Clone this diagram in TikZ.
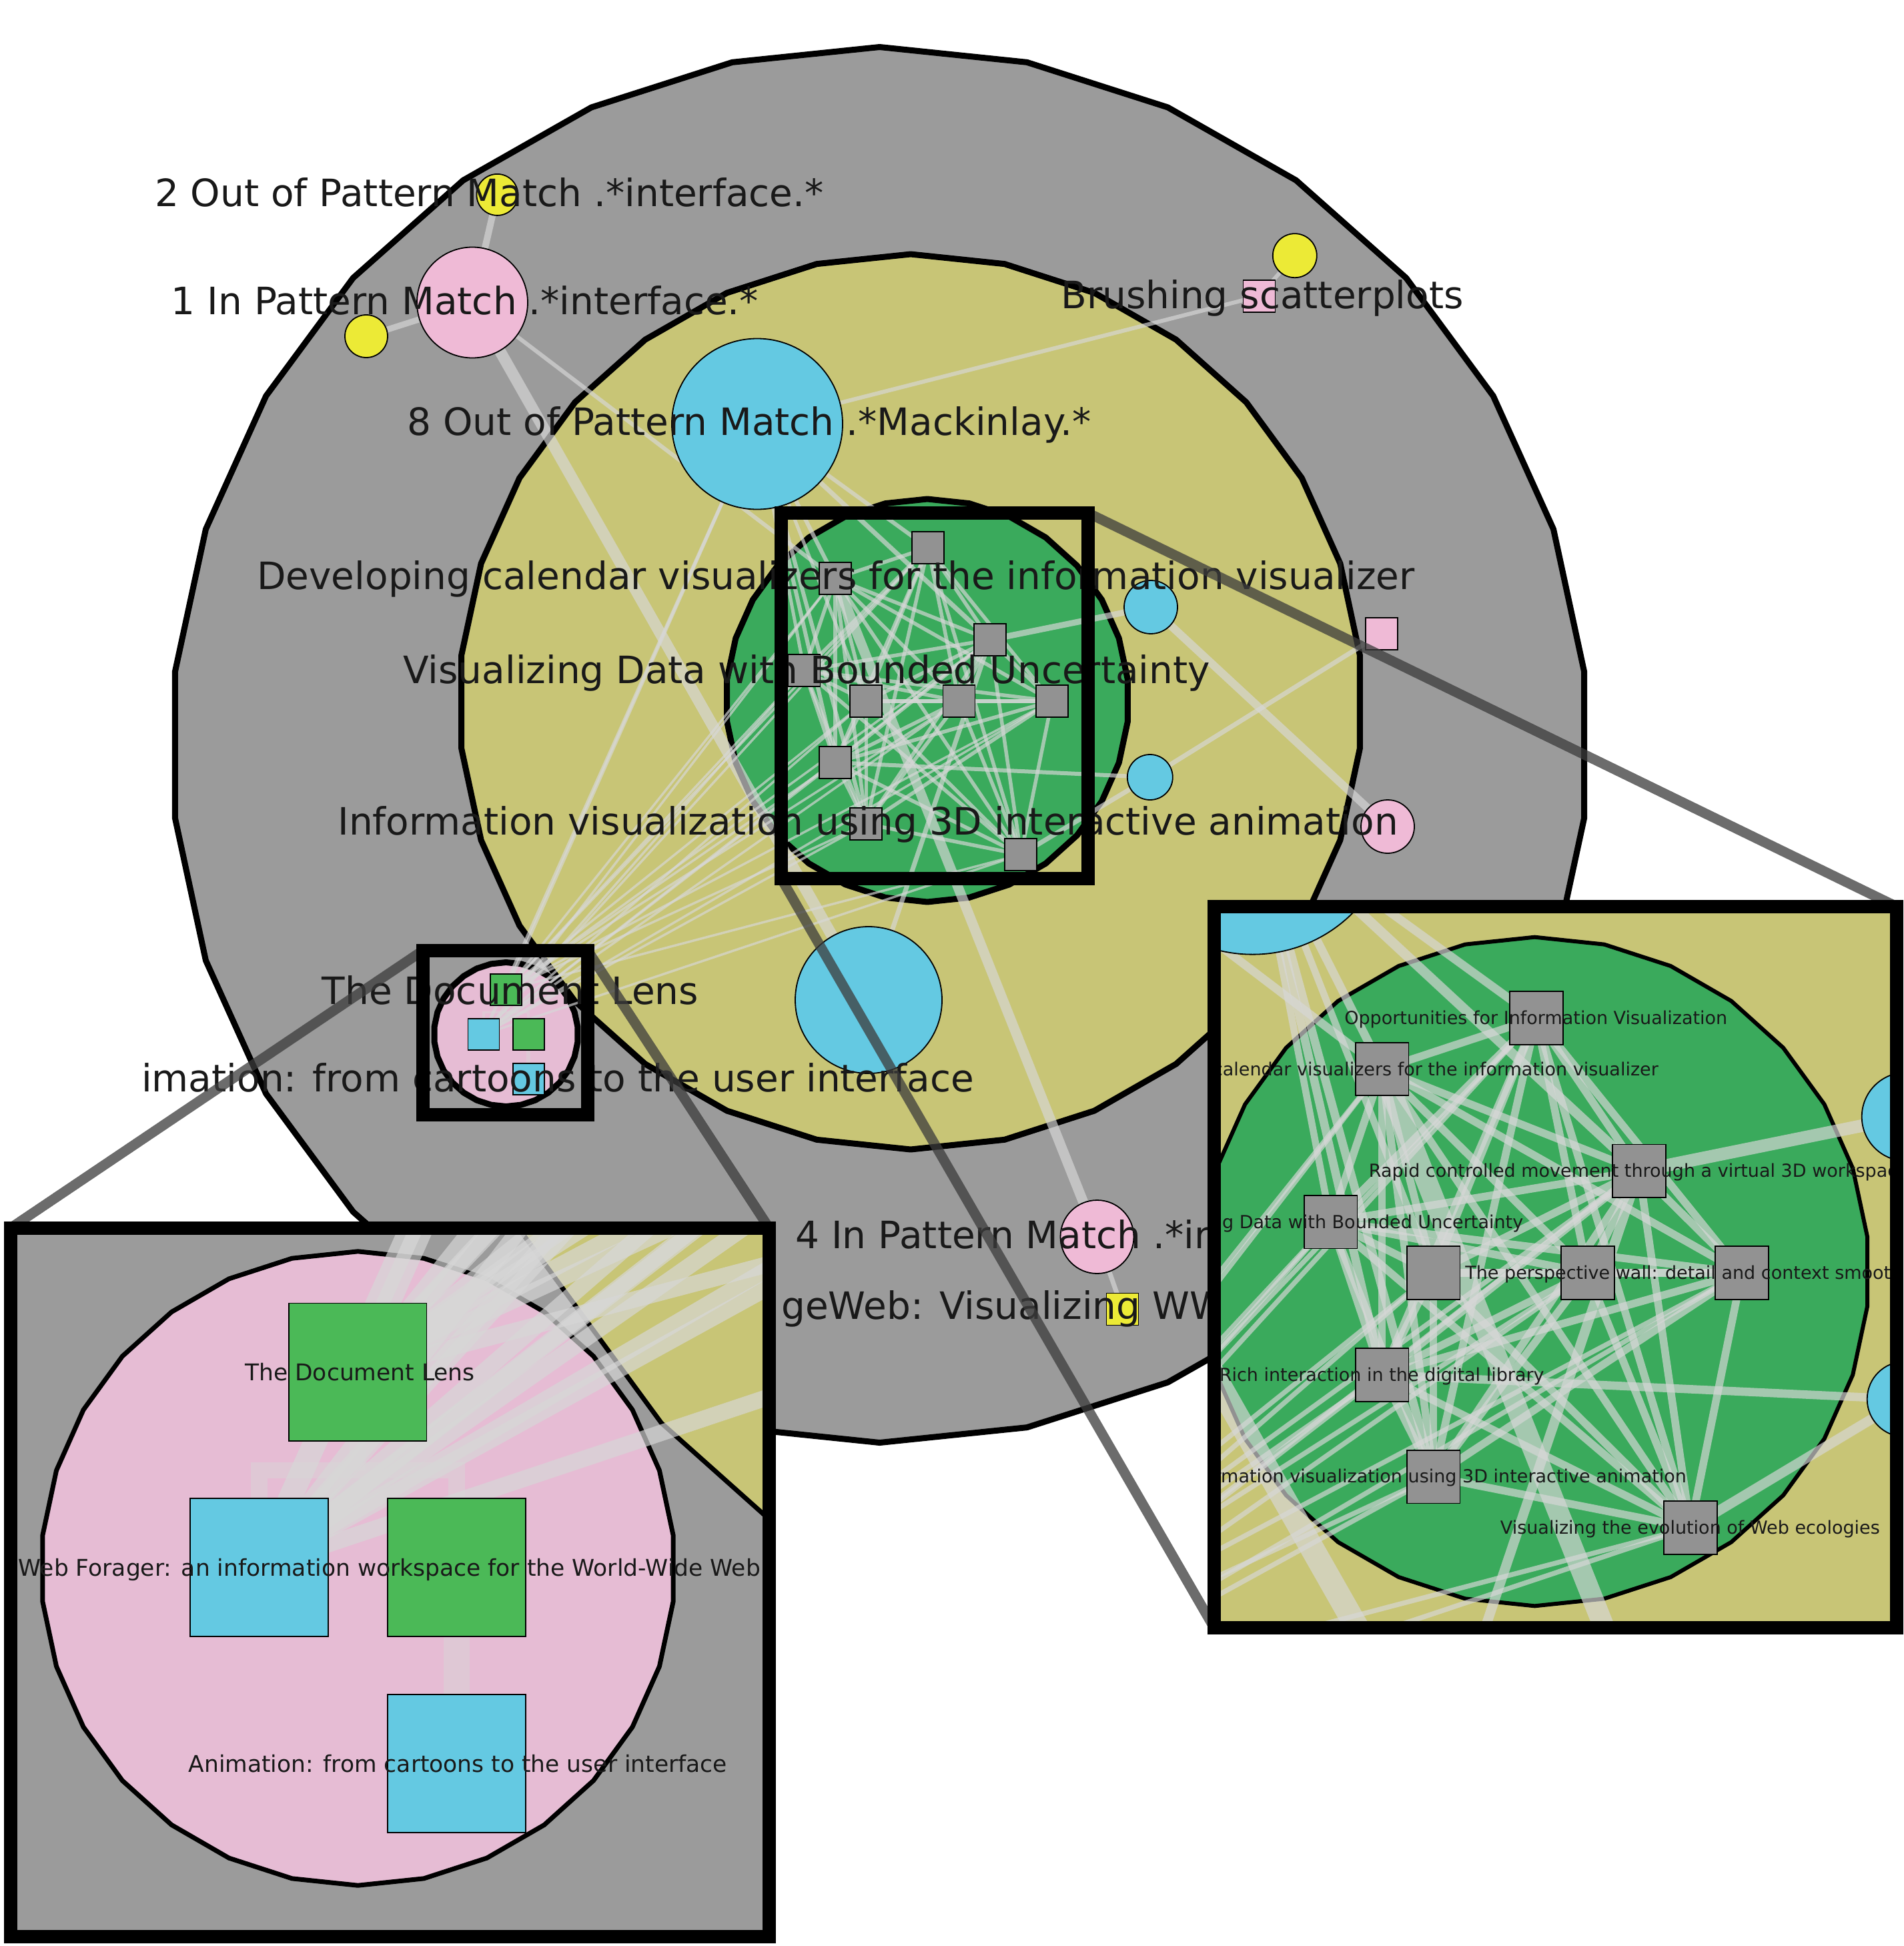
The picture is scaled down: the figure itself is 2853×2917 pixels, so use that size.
\documentclass[tikz,border=0pt]{standalone}
\usepackage{fontspec}
\setmainfont{DejaVu Sans}
\definecolor{ringgray}{RGB}{155,155,155}
\definecolor{khaki}{RGB}{200,197,118}
\definecolor{cgreen}{RGB}{58,170,92}
\definecolor{lgreen}{RGB}{75,185,87}
\definecolor{ccyan}{RGB}{100,201,226}
\definecolor{cpink}{RGB}{239,186,214}
\definecolor{lpink}{RGB}{230,188,212}
\definecolor{cyellow}{RGB}{236,234,54}
\definecolor{sqgray}{RGB}{146,146,146}
\definecolor{edgec}{RGB}{215,215,215}
\definecolor{lensline}{RGB}{60,60,60}
\tikzset{
  ringline/.style={draw=black, line join=round},
  edge/.style={draw=edgec, draw opacity=0.68},
  faint/.style={draw=edgec, draw opacity=0.45},
  sqn/.style={rectangle, draw=black, line width=1.8, inner sep=0pt, minimum size=48},
  cn/.style={circle, draw=black, line width=1.8, inner sep=0pt},
  mlab/.style={font=\fontsize{56.5}{60}\selectfont, text=black!90, inner sep=0pt, anchor=base},
  rlab/.style={font=\fontsize{27}{30}\selectfont, text=black!90, inner sep=0pt, anchor=base},
  llab/.style={font=\fontsize{34.5}{38}\selectfont, text=black!90, inner sep=0pt, anchor=base},
  frame/.style={draw=black, line width=20},
  lensconn/.style={draw=lensline, draw opacity=0.75, line width=15},
}
\newcommand\ringpoly[5]{%
  \filldraw[fill=#1, ringline, line width=\rw] plot[samples=31, domain=6:366, variable=\t] ({#2+#4*cos(\t)},{#3+#5*sin(\t)}) -- cycle;}
\newcommand\scene[2]{%
  \ringpoly{ringgray}{1318.5}{1116.5}{1062}{1046}
  \ringpoly{khaki}{1365}{1052}{677}{671}
  \ringpoly{cgreen}{1390}{1050}{302}{302}
  \ringpoly{lpink}{758.5}{1550.5}{108}{108}
  \foreach \n/\x/\y in {y1/745.4/291.9, p1/708/453.5, y2/549/504, cb/1135/635.5,
      y3/1940.8/383.2, bs/1887.4/443.9, c1/1725/910, ps/2070.7/949.6, c2/1723.8/1165,
      p2/2080/1239, cbot/1302/1499, p4/1644.5/1854, ysq/1682.5/1962.5,
      opp/1391.1/821, dev/1251.9/867, rap/1483.9/959, vis/1205.5/1005,
      ua/1298.3/1051, ub/1437.5/1051, per/1576.7/1051, ric/1251.9/1143,
      inf/1298.3/1235, evo/1530.3/1281,
      doc/758.5/1483.8, web/724.9/1550.3, grn/792.2/1550.3, ani/792.2/1617.1,
      mid/758.5/1517.3}
    \coordinate (#1\n) at (\x,\y);
  % cluster edges
  \foreach \a [count=\ci] in {opp,dev,rap,vis,ua,ub,per,ric,inf,evo}{%
    \foreach \b [count=\cj] in {opp,dev,rap,vis,ua,ub,per,ric,inf,evo}{%
      \ifnum\cj>\ci \draw[edge, line width=5.5*#2] (#1\a) -- (#1\b);\fi}}
  % lens fan
  \foreach \s in {doc,web}{%
    \foreach \t in {opp,dev,rap,vis,ua,ub,per,ric,inf,evo}{%
      \draw[edge, line width=3.5*#2] (#1\s) -- (#1\t);}}
  % other edges
  \foreach \a/\b/\w in {y1/p1/10, y2/p1/9, p1/cbot/17, p1/dev/6, cb/bs/6, bs/y3/6,
      cb/doc/5, cb/web/5, cb/opp/6, cb/dev/6, cb/vis/5, cb/ric/6, cb/inf/6, cb/rap/7,
      cb/ua/5, c1/rap/9, c1/p2/12, c2/ps/7, c2/ric/6, c2/evo/7, cbot/rap/7,
      p4/dev/15, p4/ysq/7}
    \draw[edge, line width=\w*#2] (#1\a) -- (#1\b);
  \draw[faint, line width=3.5*#2] (#1web) |- (#1mid) -| (#1grn);
  \draw[faint, line width=3.5*#2] (#1doc) -- (#1mid);
  \draw[faint, line width=5.5*#2] (#1grn) -- (#1ani);
  % nodes
  \foreach \n/\c/\s in {y1/cyellow/62, p1/cpink/166, y2/cyellow/64, cb/ccyan/256,
      y3/cyellow/66, c1/ccyan/80, c2/ccyan/68, p2/cpink/80, cbot/ccyan/220, p4/cpink/110}
    \node[cn, fill=\c, minimum size=\s] (#1\n-n) at (#1\n) {};
  \foreach \n/\c in {bs/cpink, ps/cpink, ysq/cyellow, opp/sqgray, dev/sqgray, rap/sqgray,
      vis/sqgray, ua/sqgray, ub/sqgray, per/sqgray, ric/sqgray, inf/sqgray, evo/sqgray}
    \node[sqn, fill=\c] (#1\n-n) at (#1\n) {};
  \foreach \n/\c in {doc/lgreen, web/ccyan, grn/lgreen, ani/ccyan}
    \node[sqn, fill=\c, minimum size=47] (#1\n-n) at (#1\n) {};
}
\begin{document}
\begin{tikzpicture}[x=1pt,y=-1pt]
\useasboundingbox (0,0) rectangle (2853,2917);
\fill[white] (0,0) rectangle (2853,2917);
% ---------- main view ----------
\begin{scope}
  \clip (210,0) rectangle (2853,2917);
  \def\rw{9}
  \scene{m}{1}
  \node[mlab] (ml-y1) at (733.4,309) {2 Out of Pattern Match .*interface.*};
  \node[mlab] (ml-p1) at (697,471) {1 In Pattern Match .*interface.*};
  \node[mlab] (ml-cb) at (1123,652) {8 Out of Pattern Match .*Mackinlay.*};
  \node[mlab] (ml-bs) at (1892,462) {Brushing scatterplots};
  \node[mlab] (ml-dev) at (1253,883) {Developing calendar visualizers for the information visualizer};
  \node[mlab] (ml-vis) at (1209,1024) {Visualizing Data with Bounded Uncertainty};
  \node[mlab] (ml-inf) at (1301,1251) {Information visualization using 3D interactive animation};
  \node[mlab] (ml-doc) at (765,1505) {The Document Lens};
  \node[mlab] (ml-ani) at (799,1636) {Animation: from cartoons to the user interface};
  \node[mlab] (ml-p4) at (1632.5,1871) {4 In Pattern Match .*interface.*};
  \node[mlab, anchor=base west] (ml-ysq) at (1171,1977) {geWeb: Visualizing WWW};
\end{scope}
% ---------- frame corners ----------
\coordinate (fA-tl) at (1171,769);  \coordinate (fA-tr) at (1631,769);
\coordinate (fA-bl) at (1171,1317); \coordinate (fA-br) at (1631,1317);
\coordinate (fB-tl) at (633.7,1425); \coordinate (fB-tr) at (881,1425);
\coordinate (fB-bl) at (633.7,1671); \coordinate (fB-br) at (881,1671);
\coordinate (rI-tl) at (1820,1359); \coordinate (rI-tr) at (2843,1359);
\coordinate (rI-bl) at (1820,2440); \coordinate (rI-br) at (2843,2440);
\coordinate (lI-tl) at (15.5,1841); \coordinate (lI-tr) at (1153,1841);
\coordinate (lI-bl) at (15.5,2903); \coordinate (lI-br) at (1153,2903);
% ---------- lens connectors ----------
\draw[lensconn] (fA-tr) -- (rI-tr);
\draw[lensconn] (fA-bl) -- (rI-bl);
\draw[lensconn] (fB-tl) -- (lI-tl);
\draw[lensconn] (fB-tr) -- (lI-tr);
\draw[frame] (fA-tl) rectangle (fA-br);
\draw[frame] (fB-tl) rectangle (fB-br);
% ---------- right inset ----------
\begin{scope}
  \clip (rI-tl) rectangle (rI-br);
  \fill[white] (rI-tl) rectangle (rI-br);
  \begin{scope}[shift={(-7,163)}, scale=1.66, every node/.append style={transform shape}]
    \def\rw{6}
    \scene{r}{2.1}
  \end{scope}
  \node[rlab] (rl-opp) at ([yshift=-9.8pt]ropp) {Opportunities for Information Visualization};
  \node[rlab] (rl-dev) at ([yshift=-9.8pt]rdev) {Developing calendar visualizers for the information visualizer};
  \node[rlab] (rl-rap) at ([yshift=-9.8pt]rrap) {Rapid controlled movement through a virtual 3D workspace};
  \node[rlab] (rl-vis) at ([yshift=-9.8pt]rvis) {Visualizing Data with Bounded Uncertainty};
  \node[rlab] (rl-per) at ([yshift=-9.8pt]rper) {The perspective wall: detail and context smoothly integrated};
  \node[rlab] (rl-ric) at ([yshift=-9.8pt]rric) {Rich interaction in the digital library};
  \node[rlab] (rl-inf) at ([yshift=-9.8pt]rinf) {Information visualization using 3D interactive animation};
  \node[rlab] (rl-evo) at ([yshift=-9.8pt]revo) {Visualizing the evolution of Web ecologies};
\end{scope}
\draw[frame] (rI-tl) rectangle (rI-br);
% ---------- lower inset ----------
\begin{scope}
  \clip (lI-tl) rectangle (lI-br);
  \fill[white] (lI-tl) rectangle (lI-br);
  \begin{scope}[shift={(-2800.9,-4471.2)}, scale=4.4, every node/.append style={transform shape}]
    \def\rw{7}
    \scene{l}{7}
  \end{scope}
  \node[llab] (ll-doc) at ([xshift=3pt,yshift=-12.4pt]ldoc) {The Document Lens};
  \node[llab, anchor=base east] (ll-web) at (1140,2362.4) {The WebBook and Web Forager: an information workspace for the World-Wide Web};
  \node[llab] (ll-ani) at ([xshift=1.5pt,yshift=-12.4pt]lani) {Animation: from cartoons to the user interface};
\end{scope}
\draw[frame] (lI-tl) rectangle (lI-br);
\end{tikzpicture}
\end{document}
